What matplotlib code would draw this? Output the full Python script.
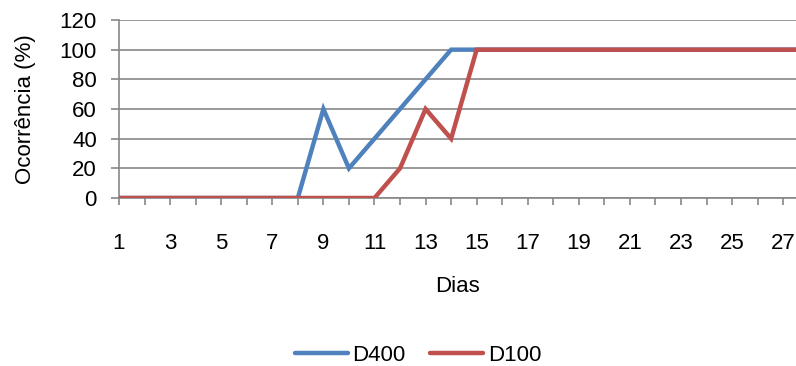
import matplotlib
matplotlib.use("Agg")
import matplotlib.pyplot as plt
from matplotlib.ticker import MultipleLocator, FixedLocator

plt.rcParams['font.family'] = ['Liberation Sans', 'DejaVu Sans']

dias = list(range(1, 29))
d400 = [0, 0, 0, 0, 0, 0, 0, 0, 60, 20, 40, 60, 80, 100,
        100, 100, 100, 100, 100, 100, 100, 100, 100, 100, 100, 100, 100, 100]
d100 = [0, 0, 0, 0, 0, 0, 0, 0, 0, 0, 0, 20, 60, 40,
        100, 100, 100, 100, 100, 100, 100, 100, 100, 100, 100, 100, 100, 100]
tick_labels = [str(d) if d % 2 == 1 else "" for d in dias]

blue = "#4F81BD"
red = "#C0504D"
grid_c = "#878787"
fs = 16

fig = plt.figure(figsize=(7.96, 3.66), dpi=100)
ax = fig.add_axes([119 / 796, 1 - 198 / 366, 1 - 119 / 796, (198 - 20) / 366])

ax.plot(dias, d400, color=blue, lw=3.2, solid_capstyle="round", solid_joinstyle="miter", label="D400", zorder=3)
ax.plot(dias, d100, color=red, lw=3.2, solid_capstyle="round", solid_joinstyle="miter", label="D100", zorder=3)

ax.set_xlim(1, 27.5)
ax.set_ylim(0, 120)
ax.yaxis.set_major_locator(MultipleLocator(20))
ax.xaxis.set_major_locator(FixedLocator(dias))
ax.set_xticklabels(tick_labels)

ax.grid(axis="y", color=grid_c, lw=1.2)
ax.set_axisbelow(True)
for s in ["top", "right"]:
    ax.spines[s].set_visible(False)
for s in ["left", "bottom"]:
    ax.spines[s].set_color(grid_c)
    ax.spines[s].set_linewidth(1.2)

ax.tick_params(axis="y", length=6, width=1.2, color=grid_c, labelsize=fs, pad=10)
ax.tick_params(axis="x", length=5, width=1.2, color=grid_c, labelsize=fs, pad=20)

ax.set_ylabel("Ocorrência (%)", fontsize=fs, labelpad=17)
ax.set_xlabel("Dias", fontsize=fs, labelpad=16)

fig.legend(loc="lower center", bbox_to_anchor=(0.525, -0.055), ncol=2, frameon=False,
           fontsize=fs, handlelength=2.4, handletextpad=0.2, columnspacing=1.1)

fig.savefig("out.png", dpi=100)
